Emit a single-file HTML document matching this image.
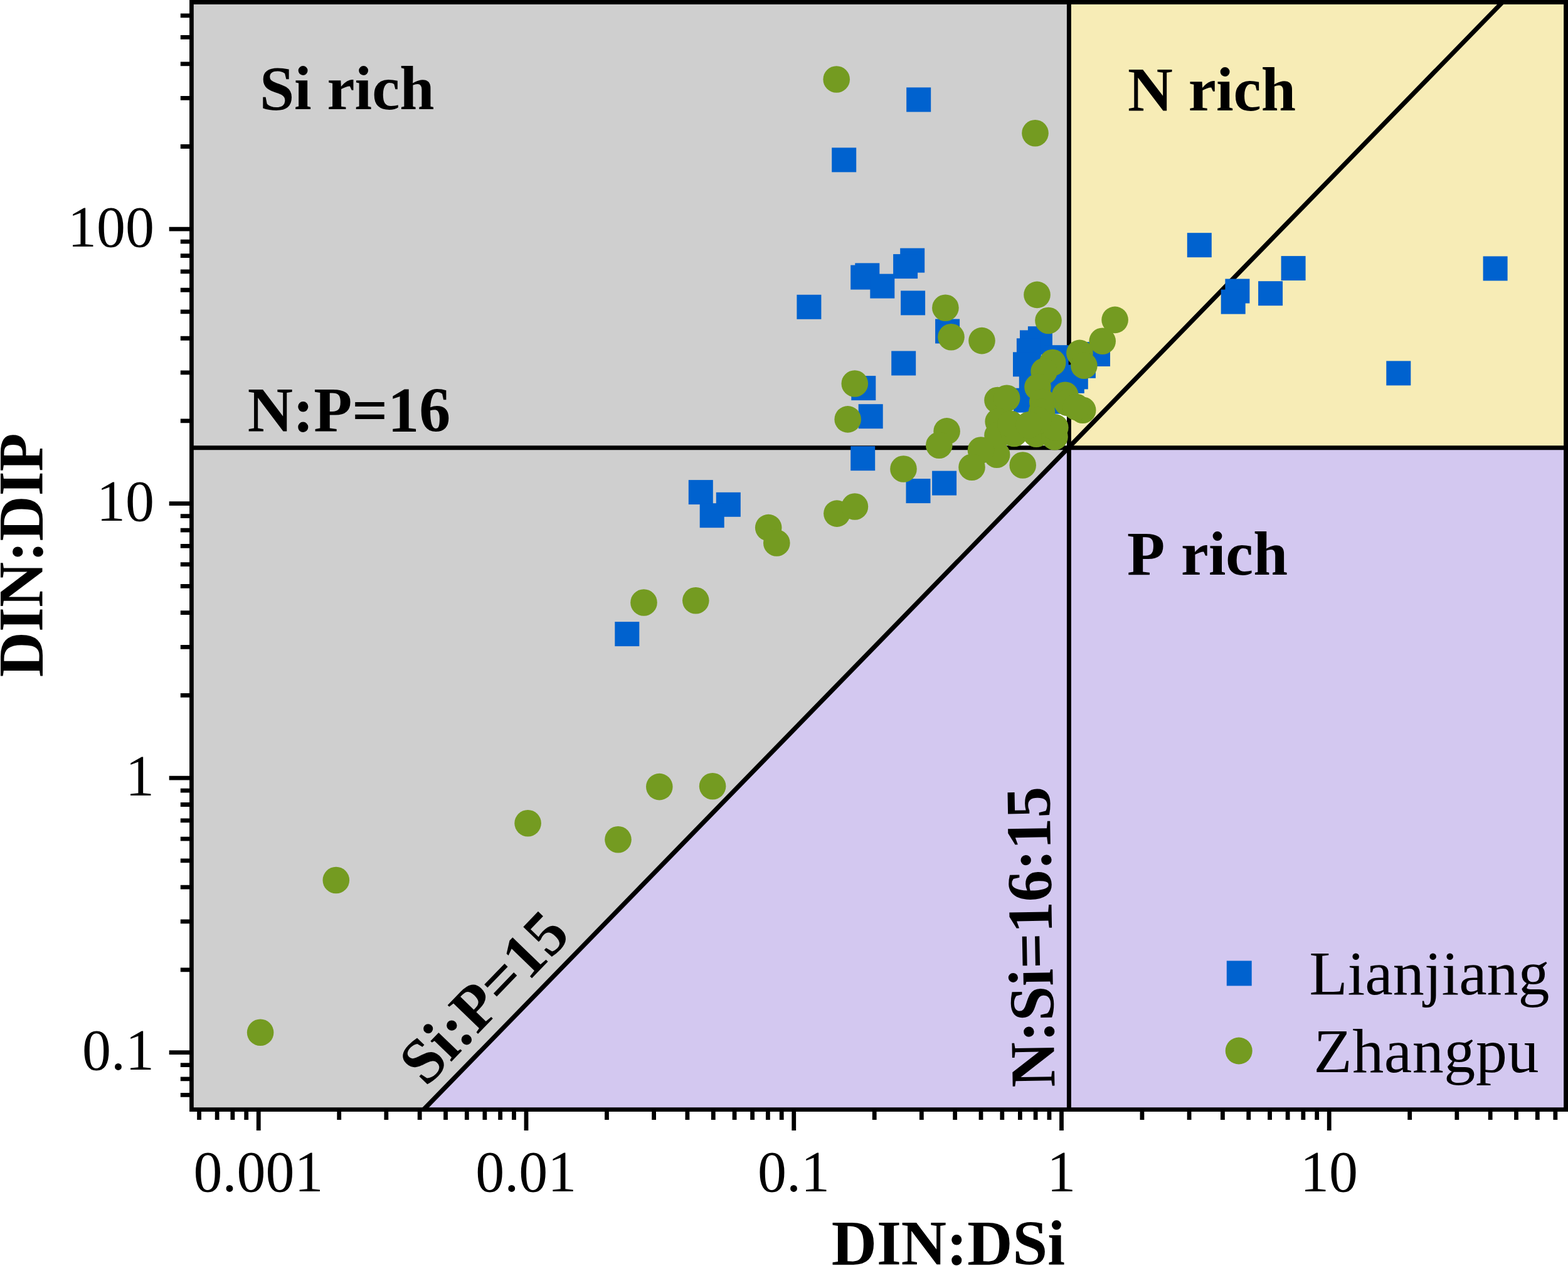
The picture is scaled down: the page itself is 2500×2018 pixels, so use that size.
<!DOCTYPE html>
<html lang="en"><head><meta charset="utf-8"><title>DIN:DIP vs DIN:DSi</title>
<style>html,body{margin:0;padding:0;background:#fff}body{width:2500px;height:2018px;overflow:hidden}svg{display:block}
text{font-family:"Liberation Serif","Times New Roman",serif;fill:#000}.b{font-weight:bold;font-size:100px}.t{font-size:92px}.l{font-size:100px}</style></head><body>
<svg width="2500" height="2018" viewBox="0 0 2500 2018">
<rect x="0" y="0" width="2500" height="2018" fill="#fff"/>
<g shape-rendering="crispEdges">
<polygon fill="#cfcfcf" points="305.40,3.50 1704.40,3.50 1704.40,713.70 675.74,1768.40 305.40,1768.40"/>
<rect fill="#f7ecb6" x="1704.40" y="3.50" width="792.10" height="710.20"/>
<polygon fill="#d3c8f0" points="1704.40,713.70 2496.50,713.70 2496.50,1768.40 675.74,1768.40"/>
</g>
<rect x="1615.1" y="645" width="85.9" height="65.5" fill="#fff"/>
<g stroke="#000" stroke-width="6.95" fill="none">
<line x1="305.40" y1="713.70" x2="2496.50" y2="713.70"/>
<line x1="1704.40" y1="3.50" x2="1704.40" y2="1768.40"/>
<line stroke-width="7.3" x1="675.74" y1="1768.40" x2="2395.51" y2="3.50"/>
</g>
<g fill="#0062cf">
<rect x="1445.2" y="139.4" width="39.0" height="39.0"/>
<rect x="1326.2" y="235.4" width="39.0" height="39.0"/>
<rect x="1892.8" y="371.2" width="39.0" height="39.0"/>
<rect x="2042.6" y="408.1" width="39.0" height="39.0"/>
<rect x="2364.6" y="408.5" width="39.0" height="39.0"/>
<rect x="2006.1" y="448.2" width="39.0" height="39.0"/>
<rect x="1953.4" y="444.5" width="39.0" height="39.0"/>
<rect x="1946.7" y="461.6" width="39.0" height="39.0"/>
<rect x="2210.3" y="575.4" width="39.0" height="39.0"/>
<rect x="1435.2" y="395.6" width="39.0" height="39.0"/>
<rect x="1424.1" y="405.1" width="39.0" height="39.0"/>
<rect x="1356.2" y="422.6" width="39.0" height="39.0"/>
<rect x="1363.3" y="419.4" width="39.0" height="39.0"/>
<rect x="1387.3" y="436.6" width="39.0" height="39.0"/>
<rect x="1270.4" y="469.8" width="39.0" height="39.0"/>
<rect x="1436.1" y="463.4" width="39.0" height="39.0"/>
<rect x="1491.1" y="508.5" width="39.0" height="39.0"/>
<rect x="1421.2" y="559.5" width="39.0" height="39.0"/>
<rect x="1357.3" y="599.1" width="39.0" height="39.0"/>
<rect x="1368.7" y="644.2" width="39.0" height="39.0"/>
<rect x="1356.2" y="711.2" width="39.0" height="39.0"/>
<rect x="1486.1" y="750.6" width="39.0" height="39.0"/>
<rect x="1444.5" y="763.1" width="39.0" height="39.0"/>
<rect x="1097.8" y="765.1" width="39.0" height="39.0"/>
<rect x="1141.8" y="784.8" width="39.0" height="39.0"/>
<rect x="1115.7" y="802.2" width="39.0" height="39.0"/>
<rect x="980.3" y="991.1" width="39.0" height="39.0"/>
<rect x="1638.9" y="520.2" width="39.0" height="39.0"/>
<rect x="1626.0" y="526.4" width="39.0" height="39.0"/>
<rect x="1620.9" y="539.3" width="39.0" height="39.0"/>
<rect x="1615.0" y="561.3" width="39.0" height="39.0"/>
<rect x="1664.7" y="550.2" width="39.0" height="39.0"/>
<rect x="1731.0" y="545.0" width="39.0" height="39.0"/>
<rect x="1707.9" y="563.8" width="39.0" height="39.0"/>
<rect x="1695.8" y="581.4" width="39.0" height="39.0"/>
<rect x="1689.8" y="587.9" width="39.0" height="39.0"/>
<rect x="1624.8" y="585.5" width="39.0" height="39.0"/>
<rect x="1615.9" y="618.7" width="39.0" height="39.0"/>
<rect x="1655.5" y="620.7" width="39.0" height="39.0"/>
<rect x="1662.5" y="587.5" width="39.0" height="39.0"/>
</g>
<g fill="#749b21">
<circle cx="415.1" cy="1645.8" r="21.3"/>
<circle cx="535.8" cy="1403.0" r="21.3"/>
<circle cx="841.6" cy="1312.2" r="21.3"/>
<circle cx="985.5" cy="1338.3" r="21.3"/>
<circle cx="1051.3" cy="1254.1" r="21.3"/>
<circle cx="1136.1" cy="1253.2" r="21.3"/>
<circle cx="1026.5" cy="960.5" r="21.3"/>
<circle cx="1109.3" cy="957.3" r="21.3"/>
<circle cx="1225.2" cy="841.1" r="21.3"/>
<circle cx="1238.3" cy="865.5" r="21.3"/>
<circle cx="1334.4" cy="818.6" r="21.3"/>
<circle cx="1362.9" cy="807.5" r="21.3"/>
<circle cx="1333.7" cy="126.5" r="21.3"/>
<circle cx="1650.5" cy="212.2" r="21.3"/>
<circle cx="1507.4" cy="490.7" r="21.3"/>
<circle cx="1516.5" cy="537.2" r="21.3"/>
<circle cx="1565.5" cy="543.1" r="21.3"/>
<circle cx="1362.8" cy="611.5" r="21.3"/>
<circle cx="1653.5" cy="469.9" r="21.3"/>
<circle cx="1671.5" cy="511.0" r="21.3"/>
<circle cx="1777.6" cy="509.9" r="21.3"/>
<circle cx="1757.7" cy="543.8" r="21.3"/>
<circle cx="1721.4" cy="562.9" r="21.3"/>
<circle cx="1728.4" cy="582.8" r="21.3"/>
<circle cx="1678.2" cy="578.0" r="21.3"/>
<circle cx="1664.6" cy="592.0" r="21.3"/>
<circle cx="1654.5" cy="617.0" r="21.3"/>
<circle cx="1662.3" cy="641.0" r="21.3"/>
<circle cx="1698.3" cy="629.8" r="21.3"/>
<circle cx="1726.2" cy="653.8" r="21.3"/>
<circle cx="1590.5" cy="638.0" r="21.3"/>
<circle cx="1605.2" cy="634.7" r="21.3"/>
<circle cx="1591.7" cy="672.0" r="21.3"/>
<circle cx="1589.2" cy="724.7" r="21.3"/>
<circle cx="1590.5" cy="694.0" r="21.3"/>
<circle cx="1630.7" cy="741.5" r="21.3"/>
<circle cx="1617.0" cy="691.0" r="21.3"/>
<circle cx="1652.3" cy="691.8" r="21.3"/>
<circle cx="1681.5" cy="696.3" r="21.3"/>
<circle cx="1564.0" cy="717.5" r="21.3"/>
<circle cx="1701.5" cy="641.7" r="21.3"/>
<circle cx="1715.8" cy="648.8" r="21.3"/>
<circle cx="1661.0" cy="656.7" r="21.3"/>
<circle cx="1682.3" cy="681.4" r="21.3"/>
<circle cx="1655.0" cy="670.0" r="21.3"/>
<circle cx="1611.3" cy="675.8" r="21.3"/>
<circle cx="1640.7" cy="677.2" r="21.3"/>
<circle cx="1351.7" cy="668.4" r="21.3"/>
<circle cx="1509.6" cy="687.4" r="21.3"/>
<circle cx="1497.3" cy="709.7" r="21.3"/>
<circle cx="1440.5" cy="747.5" r="21.3"/>
<circle cx="1549.5" cy="744.7" r="21.3"/>
</g>
<rect x="1955.8" y="1531.5" width="39.9" height="39.9" fill="#0062cf"/>
<circle cx="1975.2" cy="1675" r="21.5" fill="#749b21"/>
<g stroke="#000" stroke-width="6.80" fill="none" stroke-linecap="butt">
<path stroke="none" fill="#000" d="M302.05,0H2500V1772H302.05ZM308.8,6.95V1765.2H2493.1V6.95Z" fill-rule="evenodd"/>
<path d="M317.58,1768.40V1784.90M346.15,1768.40V1784.90M370.89,1768.40V1784.90M392.72,1768.40V1784.90M412.25,1768.40V1801.90M540.71,1768.40V1784.90M615.86,1768.40V1784.90M669.18,1768.40V1784.90M710.53,1768.40V1784.90M744.32,1768.40V1784.90M772.89,1768.40V1784.90M797.64,1768.40V1784.90M819.47,1768.40V1784.90M839.00,1768.40V1801.90M967.46,1768.40V1784.90M1042.60,1768.40V1784.90M1095.92,1768.40V1784.90M1137.28,1768.40V1784.90M1171.07,1768.40V1784.90M1199.64,1768.40V1784.90M1224.38,1768.40V1784.90M1246.21,1768.40V1784.90M1265.74,1768.40V1801.90M1394.20,1768.40V1784.90M1469.35,1768.40V1784.90M1522.67,1768.40V1784.90M1564.02,1768.40V1784.90M1597.81,1768.40V1784.90M1626.38,1768.40V1784.90M1651.13,1768.40V1784.90M1672.96,1768.40V1784.90M1692.49,1768.40V1801.90M1820.95,1768.40V1784.90M1896.09,1768.40V1784.90M1949.41,1768.40V1784.90M1990.77,1768.40V1784.90M2024.56,1768.40V1784.90M2053.13,1768.40V1784.90M2077.87,1768.40V1784.90M2099.70,1768.40V1784.90M2119.23,1768.40V1801.90M2247.69,1768.40V1784.90M2322.84,1768.40V1784.90M2376.16,1768.40V1784.90M2417.51,1768.40V1784.90M2451.30,1768.40V1784.90M2479.87,1768.40V1784.90M305.40,1745.30H287.80M305.40,1719.93H287.80M305.40,1697.56H287.80M305.40,1677.54H269.70M305.40,1545.85H287.80M305.40,1468.82H287.80M305.40,1414.17H287.80M305.40,1371.78H287.80M305.40,1337.14H287.80M305.40,1307.85H287.80M305.40,1282.48H287.80M305.40,1260.11H287.80M305.40,1240.09H269.70M305.40,1108.40H287.80M305.40,1031.37H287.80M305.40,976.72H287.80M305.40,934.33H287.80M305.40,899.69H287.80M305.40,870.40H287.80M305.40,845.03H287.80M305.40,822.66H287.80M305.40,802.64H269.70M305.40,670.95H287.80M305.40,593.92H287.80M305.40,539.27H287.80M305.40,496.88H287.80M305.40,462.24H287.80M305.40,432.95H287.80M305.40,407.58H287.80M305.40,385.21H287.80M305.40,365.19H269.70M305.40,233.50H287.80M305.40,156.47H287.80M305.40,101.82H287.80M305.40,59.43H287.80M305.40,24.79H287.80"/>
</g>
<text class="t" transform="translate(411.95,1898.80) scale(1,1.02)" text-anchor="middle">0.001</text>
<text class="t" transform="translate(838.70,1898.80) scale(1,1.02)" text-anchor="middle">0.01</text>
<text class="t" transform="translate(1265.44,1898.80) scale(1,1.02)" text-anchor="middle">0.1</text>
<text class="t" transform="translate(1692.19,1898.80) scale(1,1.02)" text-anchor="middle">1</text>
<text class="t" transform="translate(2118.93,1898.80) scale(1,1.02)" text-anchor="middle">10</text>
<text class="t" transform="translate(246.00,392.69) scale(1,1.02)" text-anchor="end">100</text>
<text class="t" transform="translate(246.00,830.14) scale(1,1.02)" text-anchor="end">10</text>
<text class="t" transform="translate(246.00,1267.59) scale(1,1.02)" text-anchor="end">1</text>
<text class="t" transform="translate(246.00,1705.04) scale(1,1.02)" text-anchor="end">0.1</text>
<text class="l" transform="translate(2087.40,1584.90)">Lianjiang</text>
<text class="l" transform="translate(2094.50,1708.60)" style="letter-spacing:0.6px">Zhangpu</text>
<text class="b" transform="translate(413.90,173.70)" style="font-size:99.3px">Si rich</text>
<text class="b" transform="translate(1798.00,175.70)" style="font-size:99.5px">N rich</text>
<text class="b" transform="translate(1797.10,915.70)" style="font-size:98.7px;word-spacing:6.5px">P rich</text>
<text class="b" transform="translate(394.70,688.20) scale(1,1.02)">N:P=16</text>
<text class="b" transform="translate(679.50,1733.80) rotate(-46) scale(1,1.02)">Si:P=15</text>
<text class="b" transform="translate(1681.50,1732.50) rotate(-91) scale(1,1.02)">N:Si=16:15</text>
<text class="b" transform="translate(68.30,1079.20) rotate(-90) scale(1,1.025)">DIN:DIP</text>
<text class="b" transform="translate(1325.70,2015.60) scale(1,1.02)">DIN:DSi</text>
</svg></body></html>
